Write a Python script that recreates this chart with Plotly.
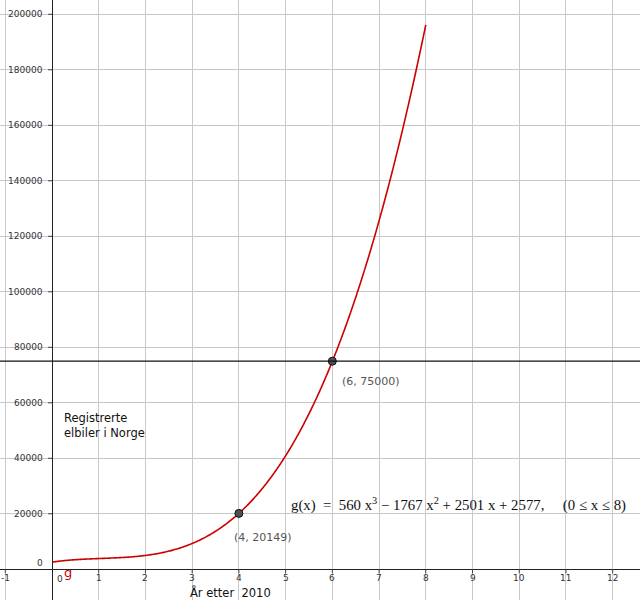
import numpy as np
import plotly.graph_objects as go

# ---- data ----
coef = [560, -1767, 2501, 2577]          # g(x) = 560x^3 - 1767x^2 + 2501x + 2577
x_domain = [0, 8]
point_x = [4, 6]
point_y = [20149, 75000]
point_labels = ["(4, 20149)", "(6, 75000)"]
hline_y = 75000
x_ticks = [-1, 1, 2, 3, 4, 5, 6, 7, 8, 9, 10, 11, 12]
y_ticks = [20000, 40000, 60000, 80000, 100000, 120000, 140000, 160000, 180000, 200000]

xs = np.linspace(x_domain[0], x_domain[1], 400)
ys = np.polyval(coef, xs)

fig = go.Figure()
fig.add_trace(go.Scatter(x=xs, y=ys, mode="lines",
                         line=dict(color="#cc0000", width=1.6, simplify=False),
                         hoverinfo="skip", showlegend=False))
fig.add_trace(go.Scatter(x=point_x, y=point_y, mode="markers",
                         marker=dict(size=8, color="#505050", line=dict(color="#111", width=1)),
                         showlegend=False))

fig.add_shape(type="line", xref="paper", x0=0, x1=1, yref="y", y0=hline_y, y1=hline_y,
              line=dict(color="#111", width=1.3))

# small axis ticks
for t in y_ticks:
    fig.add_shape(type="line", xref="x", xsizemode="pixel", xanchor=0, x0=-4, x1=0,
                  yref="y", y0=t, y1=t, line=dict(color="#444", width=1))
for t in x_ticks:
    fig.add_shape(type="line", yref="y", ysizemode="pixel", yanchor=0, y0=-4, y1=0,
                  xref="x", x0=t, x1=t, line=dict(color="#444", width=1))

ann = []
tick_font = dict(family="DejaVu Sans", size=9, color="#333")
for t in y_ticks:
    ann.append(dict(x=0, y=t, xref="x", yref="y", text=str(t), showarrow=False,
                    xanchor="right", yanchor="middle", xshift=-7, font=tick_font))
ann.append(dict(x=0, y=0, xref="x", yref="y", text="0", showarrow=False,
                xanchor="right", yanchor="bottom", xshift=-7, yshift=-1, font=tick_font))
for t in x_ticks:
    ann.append(dict(x=t, y=0, xref="x", yref="y", text=str(t), showarrow=False,
                    xanchor="center", yanchor="top", yshift=-2, font=tick_font))
ann.append(dict(x=0, y=0, xref="x", yref="y", text="0", showarrow=False,
                xanchor="left", yanchor="top", xshift=3, yshift=-3, font=tick_font))

# point labels
ann.append(dict(x=point_x[0], y=point_y[0], xref="x", yref="y", text=point_labels[0], showarrow=False,
                xanchor="left", yanchor="middle", xshift=-7, yshift=-24,
                font=dict(family="DejaVu Sans", size=11, color="#555")))
ann.append(dict(x=point_x[1], y=point_y[1], xref="x", yref="y", text=point_labels[1], showarrow=False,
                xanchor="left", yanchor="middle", xshift=8, yshift=-20,
                font=dict(family="DejaVu Sans", size=11, color="#555")))

ann.append(dict(x=0.216, y=52000, xref="x", yref="y",
                text="Registrerte<br>elbiler i Norge", showarrow=False,
                xanchor="left", yanchor="middle", align="left",
                font=dict(family="DejaVu Sans", size=11.5, color="#111")))
ann.append(dict(x=0.22, y=-1000, xref="x", yref="y", text="g", showarrow=False,
                xanchor="left", yanchor="middle",
                font=dict(family="DejaVu Sans", size=13, color="#cc0000")))
ann.append(dict(x=3.83, y=-8300, xref="x", yref="y", text="År etter  2010", showarrow=False,
                xanchor="center", yanchor="middle",
                font=dict(family="DejaVu Sans", size=11.5, color="#111")))
ann.append(dict(x=5.074, y=23532, xref="x", yref="y",
                text="g(x)  =  560 x<sup>3</sup> − 1767 x<sup>2</sup> + 2501 x + 2577,     (0 ≤ x ≤ 8)",
                showarrow=False, xanchor="left", yanchor="middle",
                font=dict(family="Liberation Serif", size=14.8, color="#111")))

fig.update_layout(
    width=640, height=600,
    margin=dict(l=0, r=0, t=0, b=0),
    paper_bgcolor="white", plot_bgcolor="white",
    annotations=ann,
    xaxis=dict(range=[-1.113, 12.585], dtick=1, tick0=0, showgrid=True, gridcolor="#c8c8c8",
               gridwidth=1, zeroline=True, zerolinecolor="#222", zerolinewidth=1.4,
               showticklabels=False, ticks="", fixedrange=True),
    yaxis=dict(range=[-11063, 205153], dtick=20000, tick0=0, showgrid=True, gridcolor="#c8c8c8",
               gridwidth=1, zeroline=True, zerolinecolor="#222", zerolinewidth=1.4,
               showticklabels=False, ticks="", fixedrange=True),
    showlegend=False,
)

fig.write_html("out.html", config={"displayModeBar": False},
               post_script="document.body.style.margin='0';document.body.style.overflow='hidden';")
